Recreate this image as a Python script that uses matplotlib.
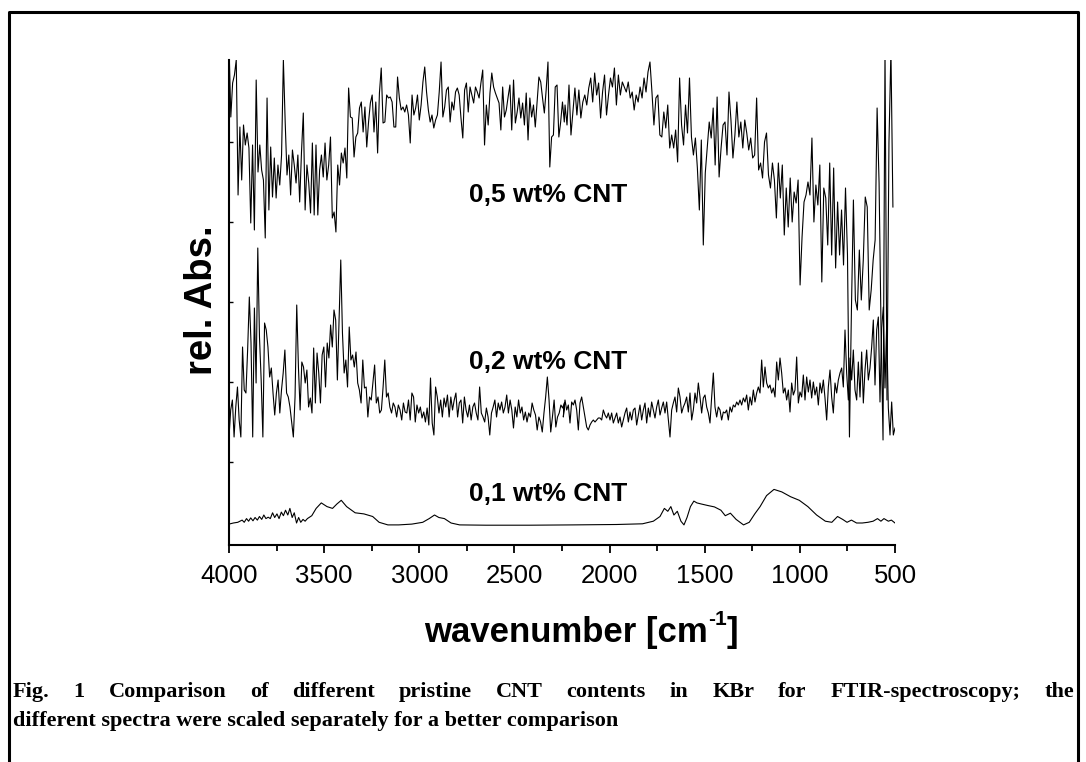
import numpy as np
import matplotlib
matplotlib.use('Agg')
from matplotlib import pyplot as plt
from matplotlib.lines import Line2D

plt.rcParams['font.family'] = ['Liberation Sans', 'DejaVu Sans']

# relative absorbance, arbitrary units (each spectrum scaled on its own)
# 0,5 wt% CNT: first run 4000 -> 2238 cm-1, second run 2234 -> 511 cm-1
TOP_A = [500, 428, 462, 470, 485, 350, 418, 365, 420, 400, 412, 397, 322, 400, 315,
         465, 373, 400, 375, 365, 307, 447, 335, 398, 348, 387, 347, 380, 360, 390,
         485, 423, 370, 390, 350, 395, 380, 362, 390, 343, 393, 432, 335, 380, 362,
         332, 402, 330, 400, 330, 375, 390, 368, 402, 365, 380, 408, 327, 333, 313,
         380, 360, 392, 382, 397, 367, 457, 428, 427, 388, 408, 412, 437, 443, 413,
         438, 398, 423, 442, 450, 413, 443, 392, 452, 477, 422, 423, 450, 447, 448,
         443, 418, 418, 468, 447, 435, 438, 433, 440, 430, 402, 450, 430, 437, 450,
         425, 440, 463, 478, 453, 435, 423, 430, 417, 425, 430, 453, 483, 428, 438,
         455, 458, 423, 443, 435, 453, 457, 450, 427, 407, 455, 462, 433, 458, 450,
         442, 458, 453, 447, 462, 475, 400, 440, 420, 452, 472, 458, 452, 447, 442,
         415, 458, 428, 435, 448, 460, 415, 465, 422, 433, 447, 427, 442, 420, 452,
         405, 447, 428, 440, 418, 443, 468, 463, 447, 432, 455, 483, 378, 408, 410,
         458, 460, 408, 423, 443, 423]
TOP_B = [440, 420, 460, 410, 433, 457, 430, 455, 427, 443, 450, 440, 457, 467, 443,
         472, 450, 462, 427, 453, 470, 430, 450, 467, 458, 477, 440, 470, 450, 463,
         458, 453, 463, 447, 453, 435, 450, 443, 458, 447, 467, 453, 473, 483, 453,
         420, 447, 450, 410, 408, 433, 417, 440, 397, 410, 397, 415, 383, 467, 420,
         400, 440, 412, 467, 408, 390, 407, 377, 335, 405, 300, 372, 398, 423, 407,
         437, 380, 448, 368, 397, 420, 423, 390, 453, 425, 387, 410, 443, 408, 423,
         397, 425, 412, 395, 407, 387, 390, 447, 375, 382, 367, 403, 412, 370, 357,
         382, 365, 327, 382, 347, 380, 310, 357, 318, 367, 323, 353, 342, 365, 260,
         308, 343, 350, 363, 350, 407, 323, 360, 340, 380, 263, 357, 347, 300, 382,
         290, 377, 277, 343, 290, 335, 280, 357, 290,
         108, 235, 345, 245, 235, 295, 245, 285, 348, 338, 235, 255, 285, 305, 437,
         362, 215, 105, 495, 145, 402, 495, 338]
TOP_RANGES = [(4000, 2238), (2234, 511)]

# 0,2 wt% CNT
MID_A = [108, 135, 145, 108, 138, 158, 125, 108, 198, 155, 152, 195, 248, 202, 108,
         237, 162, 297, 208, 165, 108, 222, 215, 198, 168, 177, 152, 130, 152, 165,
         132, 155, 172, 195, 152, 148, 138, 123, 108, 148, 240, 178, 135, 183, 178,
         162, 175, 138, 147, 132, 197, 142, 192, 172, 142, 190, 198, 158, 202, 187,
         220, 198, 235, 225, 165, 225, 285, 212, 172, 185, 158, 218, 185, 190, 178,
         193, 162, 155, 142, 185, 157, 158, 128, 148, 145, 162, 180, 142, 148, 132,
         135, 158, 185, 148, 152, 138, 132, 142, 138, 128, 140, 135, 125, 142, 133,
         132, 145, 125, 152, 148, 123, 140, 132, 138, 127, 133, 123, 137, 120, 167,
         122, 110, 158, 148, 132, 145, 128, 147, 138, 150, 128, 148, 135, 145, 152,
         128, 142, 145, 122, 148, 135, 128, 140, 125, 138, 142, 132, 125, 158, 132,
         128, 123, 137, 128, 110, 132, 138, 145, 128, 142, 135, 143, 132, 138, 150,
         132, 145, 135, 117, 138, 128, 145, 132, 138, 125, 133, 123, 132, 128, 142,
         135, 130, 115, 128, 123, 113, 132, 148, 168, 145, 113, 128, 145, 118, 128,
         132, 140, 137, 142]
MID_B = [128, 145, 135, 140, 122, 143, 140, 145, 135, 115, 142, 148, 138, 128, 118,
         115, 120, 123, 125, 123, 125, 127, 127, 125, 135, 130, 127, 132, 125, 132,
         122, 127, 132, 122, 128, 118, 125, 132, 137, 123, 133, 125, 135, 137, 120,
         130, 140, 125, 135, 142, 122, 137, 128, 143, 135, 127, 138, 145, 130, 137,
         143, 132, 143, 125, 108, 135, 142, 148, 133, 157, 148, 132, 138, 142, 148,
         133, 152, 125, 135, 152, 142, 162, 148, 132, 147, 150, 138, 132, 122, 148,
         172, 138, 128, 138, 135, 125, 133, 132, 135, 125, 138, 133, 140, 138, 143,
         140, 145, 140, 147, 143, 150, 135, 148, 140, 155, 143, 152, 158, 152, 185,
         158, 178, 162, 157, 160, 152, 157, 148, 183, 165, 187, 172, 152, 157, 145,
         155, 133, 162, 150, 155, 188, 142, 153, 148, 170, 145, 168, 153, 165, 147,
         163, 150, 158, 140, 162, 152, 165, 147, 125, 158, 175, 148, 132, 162, 152,
         165, 172, 177, 158, 215, 172, 145, 187, 165, 195, 155, 145, 183, 148, 193,
         142, 175, 195, 165, 177, 198,
         225, 160, 215, 228, 143, 217, 238, 157, 220, 137, 110, 143, 110, 117]
MID_RANGES = [(4000, 2238), (2243, 500)]

# 0,1 wt% CNT
LOW_WN = [4000, 3977, 3954, 3931, 3920, 3908, 3897, 3886, 3874, 3863, 3851, 3840,
          3828, 3817, 3806, 3794, 3783, 3771, 3760, 3748, 3737, 3725, 3714, 3703,
          3691, 3680, 3668, 3657, 3645, 3634, 3623, 3611, 3600, 3588, 3565, 3542,
          3515, 3485, 3456, 3433, 3410, 3382, 3337, 3291, 3245, 3211, 3165, 3108,
          3039, 2982, 2948, 2920, 2897, 2868, 2833, 2788, 2650, 2422, 2193, 1964,
          1827, 1770, 1735, 1712, 1694, 1678, 1662, 1644, 1625, 1609, 1593, 1575,
          1557, 1541, 1518, 1484, 1449, 1415, 1392, 1365, 1335, 1296, 1266, 1237,
          1209, 1175, 1136, 1095, 1049, 1003, 958, 912, 866, 832, 802, 775, 752,
          729, 702, 672, 642, 615, 592, 574, 558, 535, 519, 500]
LOW = [20.9, 22.0, 22.7, 24.9, 22.7, 26.4, 23.8, 27.1, 24.2, 27.5, 24.9, 28.5,
       25.6, 30.0, 26.4, 27.8, 26.4, 32.2, 27.5, 31.1, 26.4, 32.9, 29.3, 34.8,
       30.0, 36.6, 27.5, 32.2, 22.0, 27.5, 22.7, 25.6, 23.8, 26.4, 29.3, 36.6,
       42.1, 38.4, 36.6, 41.0, 44.7, 38.4, 32.2, 31.1, 28.5, 22.7, 20.1, 20.1,
       20.9, 22.7, 26.4, 30.0, 27.5, 26.4, 22.0, 20.1, 19.8, 19.8, 20.1, 20.5,
       21.2, 23.8, 28.5, 36.6, 33.7, 38.4, 30.0, 33.7, 23.8, 20.1, 27.5, 38.4,
       43.9, 42.1, 41.0, 39.5, 38.1, 34.8, 29.3, 31.8, 25.6, 20.1, 22.7, 31.1,
       38.4, 49.4, 55.6, 53.1, 48.3, 44.7, 38.4, 30.0, 23.8, 22.7, 28.5, 25.6,
       22.7, 24.9, 22.0, 22.0, 22.7, 23.8, 26.4, 23.8, 26.4, 23.8, 24.9, 22.0]

LABELS = ['0,5 wt% CNT', '0,2 wt% CNT', '0,1 wt% CNT']
LABEL_Y = [343, 176, 44]
LABEL_WN = 2325

XTICKS = [4000, 3500, 3000, 2500, 2000, 1500, 1000, 500]
XLABEL = ['wavenumber [cm', '-1', ']']
CAPTION = ['Fig. 1 Comparison of different pristine CNT contents in KBr for '
           'FTIR-spectroscopy; the',
           'different spectra were scaled separately for a better comparison']

W, H = 1086, 762
fig = plt.figure(figsize=(W / 100, H / 100), dpi=100)
ax = fig.add_axes([229 / W, 1 - 545 / H, 666 / W, 485 / H])
renderer = fig.canvas.get_renderer()


def segments(parts, ranges):
    xs, ys = [], []
    for vals, (a, b) in zip(parts, ranges):
        xs.append(np.linspace(a, b, len(vals)))
        ys.append(np.asarray(vals, float))
    return np.concatenate(xs), np.concatenate(ys)


for x, y in [segments([TOP_A, TOP_B], TOP_RANGES),
             segments([MID_A, MID_B], MID_RANGES),
             (np.array(LOW_WN), np.array(LOW))]:
    ax.plot(x, y, color='black', lw=0.8)

for lab, yy in zip(LABELS, LABEL_Y):
    ax.text(LABEL_WN, yy, lab, ha='center', va='baseline',
            fontsize=19, fontweight='bold')

ax.set_xlim(4000, 500)
ax.set_ylim(0, 485)
ax.set_xticks(XTICKS)
ax.set_xticklabels([str(t) for t in XTICKS], fontsize=18.5)
ax.set_xticks(np.arange(3750, 500, -500), minor=True)
ax.tick_params(axis='x', which='major', direction='out', length=6, width=1.3, pad=8)
ax.tick_params(axis='x', which='minor', direction='out', length=4, width=1.3)
ax.set_yticks([83, 163, 243, 323, 403])
ax.set_yticklabels([])
ax.tick_params(axis='y', direction='in', length=3, width=1)
for s in ['top', 'right']:
    ax.spines[s].set_visible(False)
for s in ['left', 'bottom']:
    ax.spines[s].set_linewidth(1.5)

fig.text(202 / W, 1 - 300 / H, 'rel. Abs.', rotation=90, ha='center', va='center',
         fontsize=27.5, fontweight='bold')

# x label with a small raised "-1"
parts = [fig.text(0, 1 - 642 / H, XLABEL[0], va='baseline', fontsize=25, fontweight='bold'),
         fig.text(0, 1 - 625 / H, XLABEL[1], va='baseline', fontsize=15, fontweight='bold'),
         fig.text(0, 1 - 642 / H, XLABEL[2], va='baseline', fontsize=25, fontweight='bold')]
pw = [p.get_window_extent(renderer).width for p in parts]
xpos = 581 - sum(pw) / 2
for p, w in zip(parts, pw):
    p.set_x(xpos / W)
    xpos += w

# figure frame (bottom edge lies outside the picture)
fig.add_artist(Line2D([9 / W, 9 / W, 1078 / W, 1078 / W],
                      [0, 1 - 12 / H, 1 - 12 / H, 0],
                      transform=fig.transFigure, color='black', lw=2.2))

# justified caption
cap = dict(fontsize=16, fontweight='bold', family=['Liberation Serif', 'DejaVu Serif'])
left, right = 13, 1074
words = CAPTION[0].split()
texts = [fig.text(0, 1 - 697 / H, w, va='baseline', **cap) for w in words]
widths = [t.get_window_extent(renderer).width for t in texts]
gap = (right - left - sum(widths)) / (len(words) - 1)
xpos = left
for t, w in zip(texts, widths):
    t.set_x(xpos / W)
    xpos += w + gap
fig.text(left / W, 1 - 726 / H, CAPTION[1], va='baseline', **cap)

fig.savefig('out.png', dpi=100)
